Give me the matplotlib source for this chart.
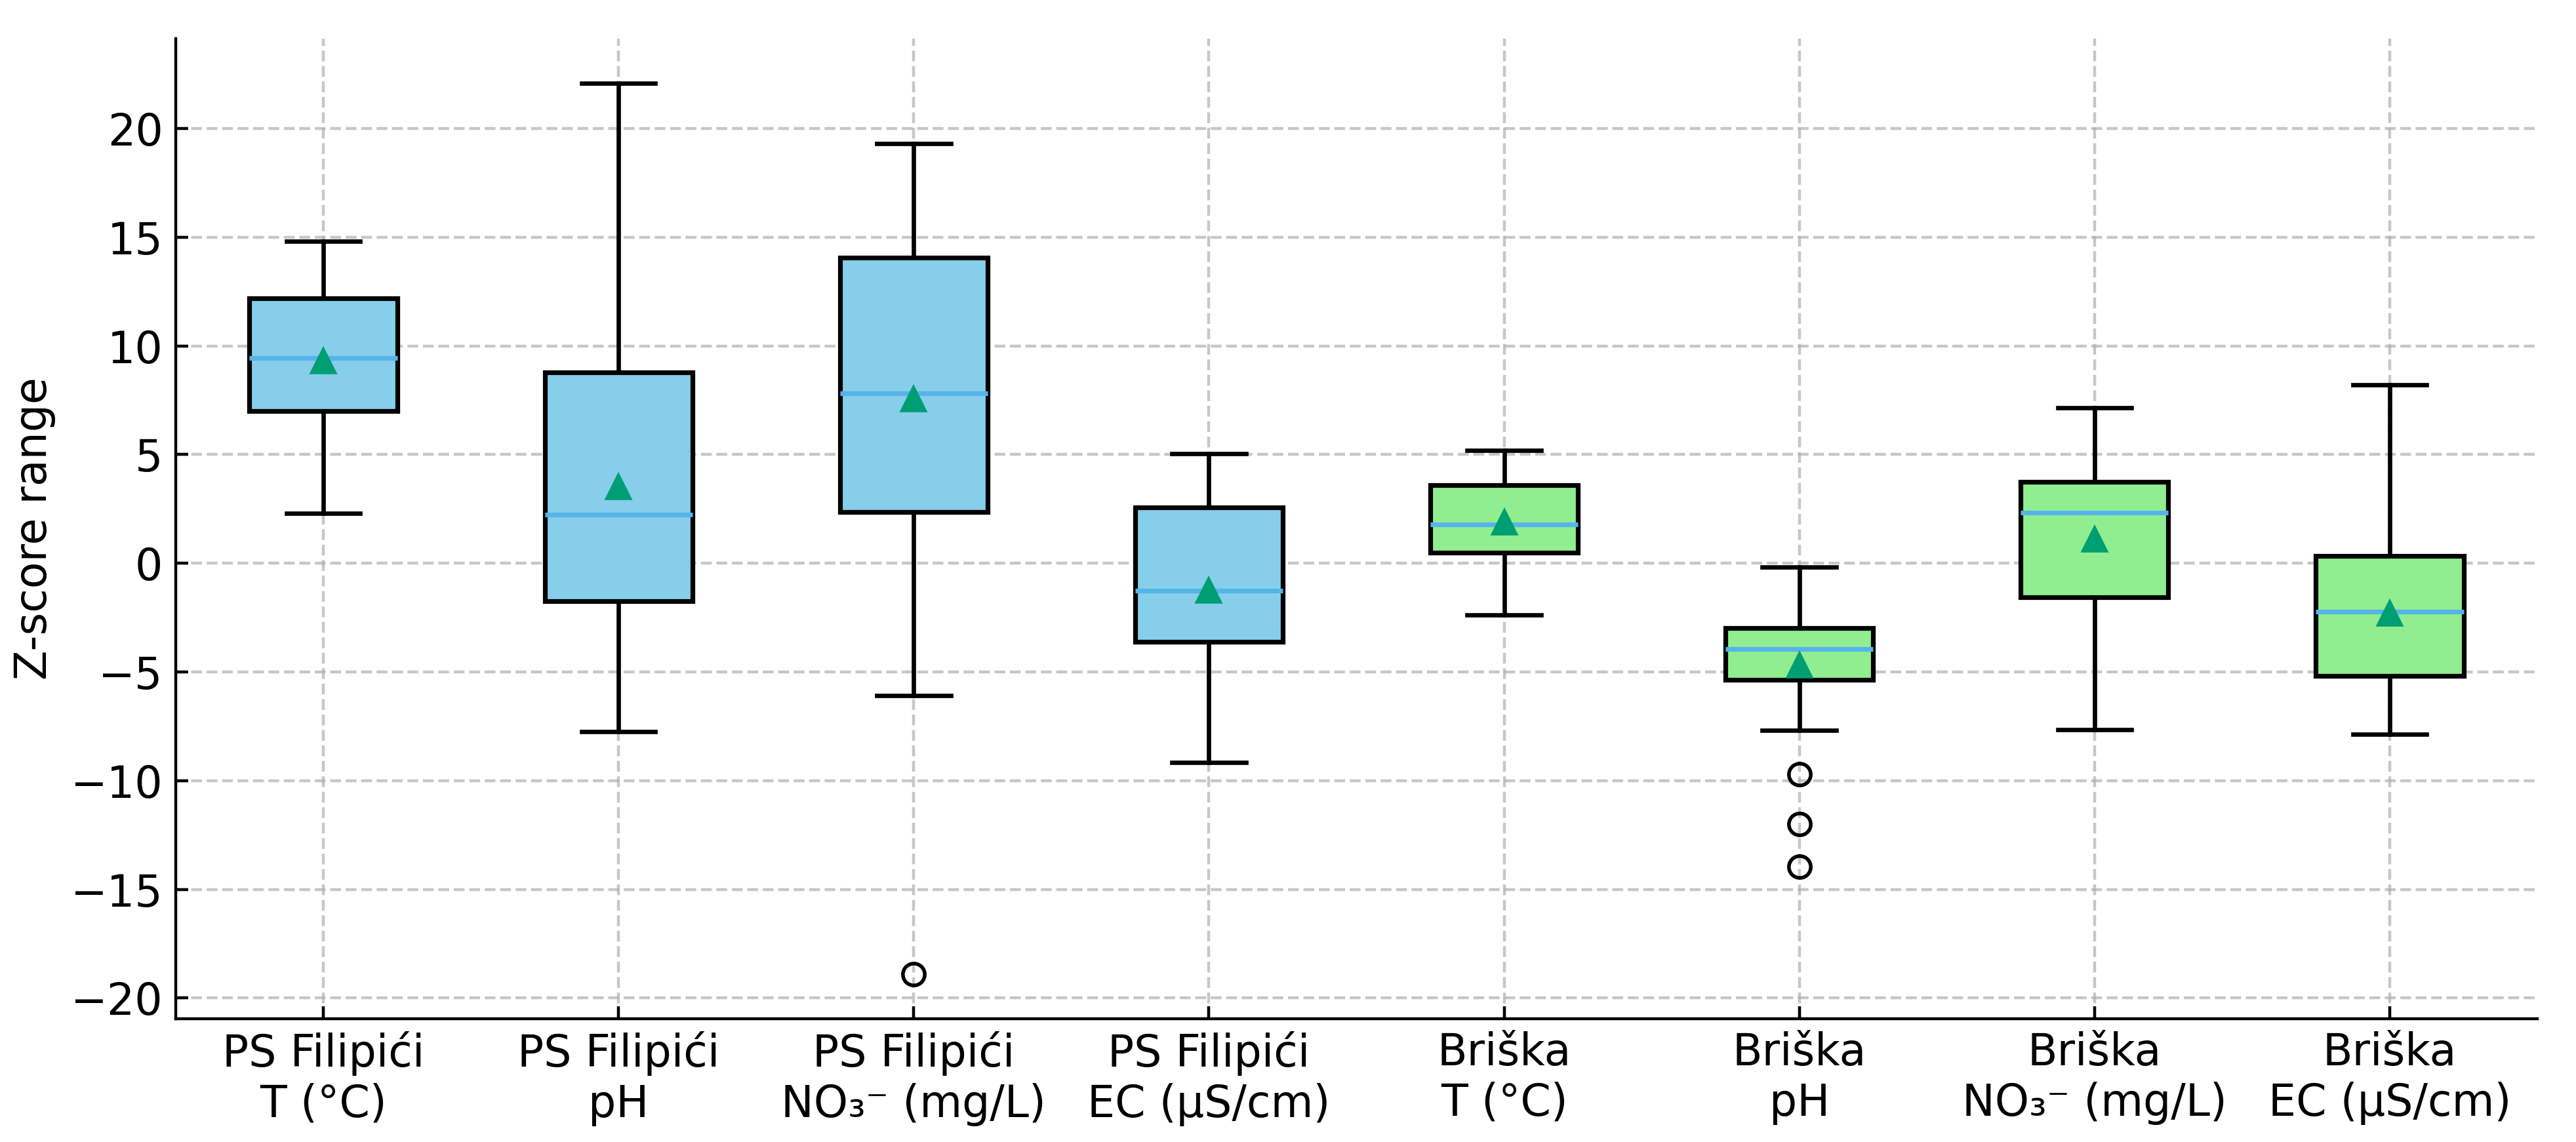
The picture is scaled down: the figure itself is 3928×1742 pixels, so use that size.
import matplotlib.pyplot as plt
from matplotlib.ticker import MultipleLocator

# box summaries (z-score units)
labels = ["PS Filipići\nT (°C)", "PS Filipići\npH", "PS Filipići\nNO₃⁻ (mg/L)", "PS Filipići\nEC (µS/cm)",
          "Briška\nT (°C)", "Briška\npH", "Briška\nNO₃⁻ (mg/L)", "Briška\nEC (µS/cm)"]
whis_lo = [2.3, -7.75, -6.07, -9.16, -2.38, -7.69, -7.65, -7.87]
q1 = [7.0, -1.75, 2.35, -3.61, 0.48, -5.37, -1.56, -5.19]
med = [9.46, 2.23, 7.82, -1.26, 1.80, -3.95, 2.34, -2.22]
q3 = [12.2, 8.78, 14.05, 2.58, 3.6, -2.97, 3.76, 0.33]
whis_hi = [14.83, 22.08, 19.3, 5.04, 5.19, -0.16, 7.15, 8.21]
means = [9.3, 3.5, 7.56, -1.25, 1.87, -4.7, 1.1, -2.31]
outliers = [[], [], [-18.9], [], [], [-9.69, -12.0, -13.97], [], []]
sites = ["PS Filipići"] * 4 + ["Briška"] * 4

site_colors = {"PS Filipići": "#87CEEB", "Briška": "#90EE90"}

stats = []
for i in range(len(labels)):
    stats.append({"label": labels[i], "whislo": whis_lo[i], "q1": q1[i], "med": med[i],
                  "q3": q3[i], "whishi": whis_hi[i], "mean": means[i], "fliers": outliers[i]})

plt.rcParams["font.size"] = 12
fig, ax = plt.subplots(figsize=(3928 / 400, 1742 / 400), dpi=400)
fig.subplots_adjust(left=0.0682, right=0.985, bottom=0.108, top=0.966)

bp = ax.bxp(stats, widths=0.5, patch_artist=True, showmeans=True,
            boxprops=dict(linewidth=1.3, edgecolor="black"),
            whiskerprops=dict(linewidth=1.2),
            capprops=dict(linewidth=1.2),
            medianprops=dict(color="#56B4E9", linewidth=1.3),
            meanprops=dict(marker="^", markerfacecolor="#009E73", markeredgecolor="#009E73", markersize=6),
            flierprops=dict(marker="o", markerfacecolor="none", markeredgecolor="black", markersize=6))

for patch, site in zip(bp["boxes"], sites):
    patch.set_facecolor(site_colors[site])

ax.set_ylabel("Z-score range")
ax.yaxis.set_major_locator(MultipleLocator(5))
ax.grid(True, linestyle="--", alpha=0.7)
ax.tick_params(direction="in")
ax.spines["top"].set_visible(False)
ax.spines["right"].set_visible(False)

plt.savefig("out.png", dpi=400)
